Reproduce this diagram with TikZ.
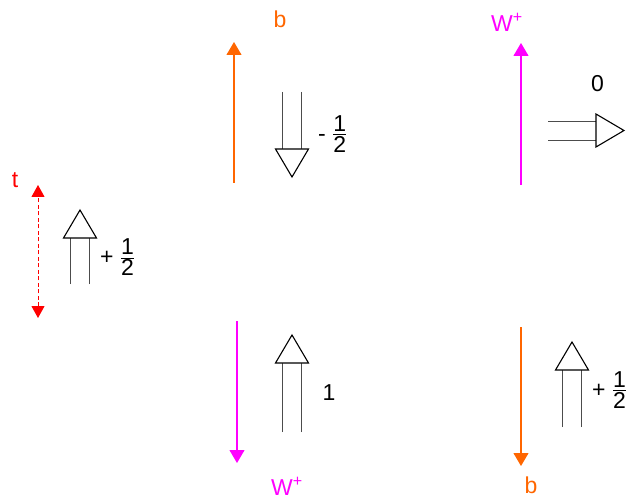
\documentclass[tikz,border=0pt]{standalone}
\usepackage{amsmath}
\usepackage{fontspec}
\setmainfont{Liberation Sans}
\usetikzlibrary{arrows.meta}
\definecolor{quarkorange}{RGB}{255,102,0}
\definecolor{bosonpink}{RGB}{255,0,255}

\begin{document}
\begin{tikzpicture}[x=1pt,y=-1pt,
  lab/.style={font=\fontsize{23}{27}\selectfont,inner sep=0pt},
  leg/.style={line width=1.1pt,-{Triangle[length=13pt,width=15pt]}},
]
\useasboundingbox (0,0) rectangle (627,500);
\def\L{28}\def\W{16.5}\def\S{9.5}
% momentum lines of t, b and W+
\coordinate (t0) at (38,318);  \coordinate (t1) at (38,185);
\coordinate (b0) at (234,183); \coordinate (b1) at (234,42);
\coordinate (w0) at (521,185); \coordinate (w1) at (521,43);
\coordinate (w2) at (237,321); \coordinate (w3) at (237,463);
\coordinate (b2) at (521,327); \coordinate (b3) at (521,466);
\draw[leg,red,line width=1pt,dash pattern=on 4pt off 2.5pt,{Triangle[length=12pt,width=13pt]}-{Triangle[length=12pt,width=13pt]}] (t0) -- (t1);
\draw[leg,quarkorange] (b0) -- (b1);
\draw[leg,bosonpink] (w0) -- (w1);
\draw[leg,bosonpink] (w2) -- (w3);
\draw[leg,quarkorange] (b2) -- (b3);
% particle names
\node[lab,text=red] (tname) at (15,180) {t};
\node[lab,text=quarkorange] (bname) at (280,19) {b};
\node[lab,text=bosonpink] (wname) at (507,22) {W\textsuperscript{+}};
\node[lab,text=bosonpink] (wname2) at (287,486) {W\textsuperscript{+}};
\node[lab,text=quarkorange] (bname2) at (531,485) {b};
% spin arrows: base point, direction, shaft length
\foreach \x/\y/\ang/\len in {80/284/0/46, 292/92/180/57, 548/130.5/-90/48, 292/432/0/69, 572/427/0/57} {
  \begin{scope}[shift={(\x,\y)},rotate=\ang]
    \draw[black!70,line width=0.9pt] (-\S,0) -- (-\S,-\len) (\S,0) -- (\S,-\len);
    \draw[line width=1.1pt,fill=white] (-\W,-\len) -- (\W,-\len) -- (0,-\len-\L) -- cycle;
  \end{scope}
}
% helicities
\node[lab,anchor=west] (ht) at (100,257.5) {+ $\frac{\mbox{1}}{\mbox{2}}$};
\node[lab,anchor=west] (hb) at (318,134) {- $\frac{\mbox{1}}{\mbox{2}}$};
\node[lab] (hw) at (597.5,83.5) {0};
\node[lab] (hw2) at (329,393) {1};
\node[lab,anchor=west] (hb2) at (592,390) {+ $\frac{\mbox{1}}{\mbox{2}}$};
\end{tikzpicture}
\end{document}
